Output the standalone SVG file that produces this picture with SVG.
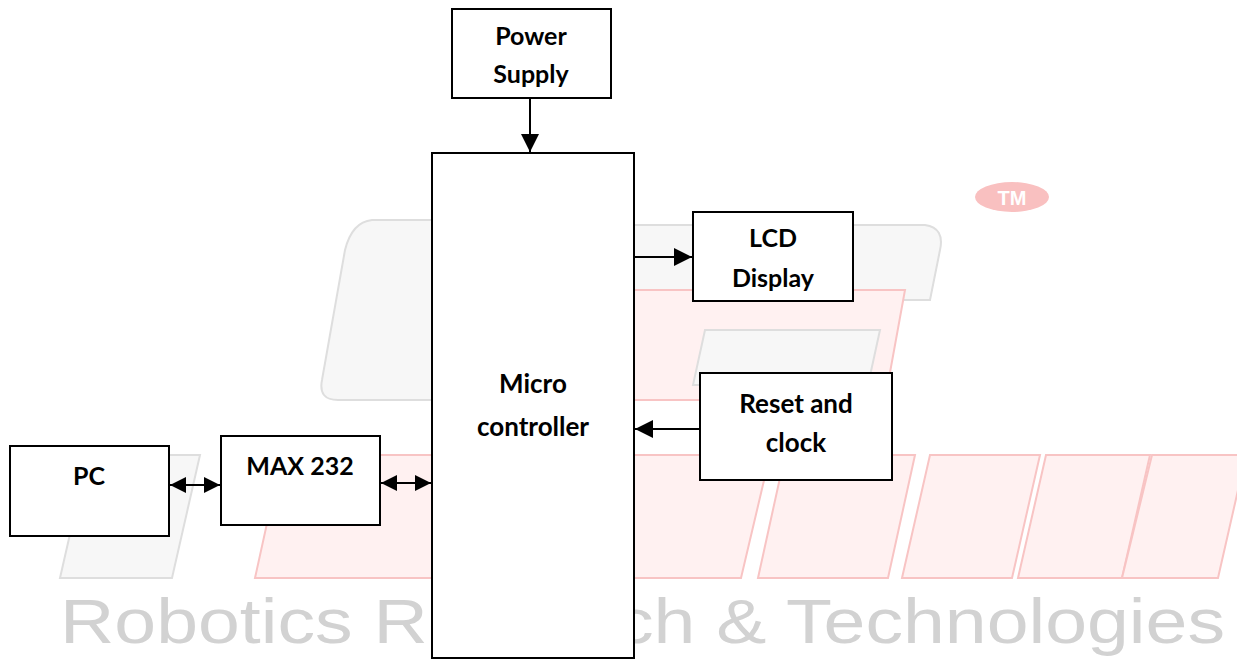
<svg xmlns="http://www.w3.org/2000/svg" width="1237" height="660" viewBox="0 0 1237 660">
  <style>
    .box { fill: #ffffff; stroke: #000000; stroke-width: 2; }
    .lbl { font-family: Lato, "Open Sans", "Liberation Sans", sans-serif; font-weight: 700; font-size: 25px; fill: #000000; text-anchor: middle; }
    .big { font-size: 26px; }
    .wire { stroke: #000000; stroke-width: 2; fill: none; }
    .wm-red { fill: #fff1f1; stroke: #f8c4c4; stroke-width: 2; }
    .wm-gray { fill: #f7f7f7; stroke: #dedede; stroke-width: 2; }
    .wm-text { font-family: "Liberation Sans", "DejaVu Sans", sans-serif; font-size: 63px; fill: #d2d2d2; }
  </style>
  <defs>
    <marker id="ah" viewBox="0 0 10 10" refX="10" refY="5" markerWidth="9" markerHeight="9" markerUnits="strokeWidth" orient="auto-start-reverse">
      <path d="M0,0 L10,5 L0,10 Z" fill="#000000"/>
    </marker>
    <marker id="ah2" viewBox="0 0 10 10" refX="10" refY="5" markerWidth="8" markerHeight="8" markerUnits="strokeWidth" orient="auto-start-reverse">
      <path d="M0,0 L10,5 L0,10 Z" fill="#000000"/>
    </marker>
  </defs>
  <rect width="1237" height="660" fill="#ffffff"/>

  <g id="watermark">
    <ellipse cx="1012" cy="197" rx="37" ry="15" fill="#f9c0c0"/>
    <text x="1012" y="205" font-family="Liberation Sans, sans-serif" font-weight="700" font-size="20" fill="#ffffff" text-anchor="middle">TM</text>
    <path class="wm-gray" d="M372,220 Q352,222 345,250 L322,380 Q318,400 338,400 L440,400 L440,220 Z"/>
    <path class="wm-gray" d="M634,225 L925,225 Q945,228 940,250 L930,300 L634,300 Z"/>
    <path class="wm-red" d="M634,290 L905,290 L885,400 L634,400 Z"/>
    <path class="wm-gray" d="M705,330 L880,330 L868,385 L693,385 Z"/>
    <path class="wm-gray" d="M88,455 L200,455 L172,578 L60,578 Z"/>
    <path class="wm-red" d="M282,455 L432,455 L432,578 L255,578 Z"/>
    <path class="wm-red" d="M634,455 L770,455 L741,578 L634,578 Z"/>
    <path class="wm-red" d="M785,455 L915,455 L888,578 L758,578 Z"/>
    <path class="wm-red" d="M930,455 L1040,455 L1012,578 L902,578 Z"/>
    <path class="wm-red" d="M1046,455 L1150,455 L1122,578 L1018,578 Z"/>
    <path class="wm-red" d="M1152,455 L1246,455 L1218,578 L1122,578 Z"/>
    <text class="wm-text" x="60" y="643" textLength="1165" lengthAdjust="spacingAndGlyphs">Robotics Research &amp; Technologies</text>
  </g>

  <g id="connectors">
    <line class="wire" x1="530" y1="98" x2="530" y2="152" marker-end="url(#ah)"/>
    <line class="wire" x1="634" y1="257" x2="692" y2="257" marker-end="url(#ah)"/>
    <line class="wire" x1="700" y1="429" x2="635" y2="429" marker-end="url(#ah)"/>
    <line class="wire" x1="170" y1="485" x2="220" y2="485" marker-start="url(#ah2)" marker-end="url(#ah2)"/>
    <line class="wire" x1="381" y1="483" x2="431" y2="483" marker-start="url(#ah2)" marker-end="url(#ah2)"/>
  </g>

  <g id="power-supply">
    <rect class="box" x="452" y="9" width="159" height="89"/>
    <text class="lbl" x="531" y="45">Power</text>
    <text class="lbl" x="531" y="83">Supply</text>
  </g>

  <g id="microcontroller">
    <rect class="box" x="432" y="153" width="202" height="505"/>
    <text class="lbl big" x="533" y="393">Micro</text>
    <text class="lbl big" x="533" y="436">controller</text>
  </g>

  <g id="lcd-display">
    <rect class="box" x="693" y="212" width="160" height="89"/>
    <text class="lbl" x="773" y="247">LCD</text>
    <text class="lbl" x="773" y="287">Display</text>
  </g>

  <g id="reset-clock">
    <rect class="box" x="700" y="373" width="192" height="107"/>
    <text class="lbl big" x="796" y="413">Reset and</text>
    <text class="lbl big" x="796" y="452">clock</text>
  </g>

  <g id="pc">
    <rect class="box" x="10" y="446" width="159" height="90"/>
    <text class="lbl" x="89" y="485">PC</text>
  </g>

  <g id="max232">
    <rect class="box" x="221" y="436" width="159" height="89"/>
    <text class="lbl" x="300" y="475">MAX 232</text>
  </g>
</svg>
